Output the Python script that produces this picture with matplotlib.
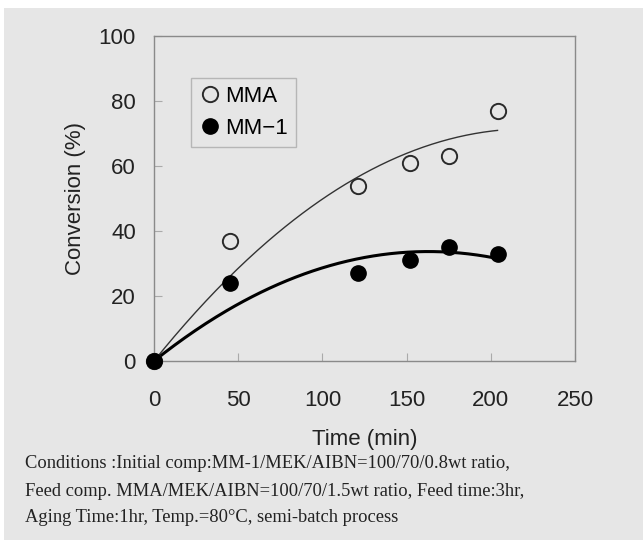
import numpy as np
import matplotlib
matplotlib.use('Agg')
import matplotlib.pyplot as plt
from matplotlib.patches import Rectangle
from matplotlib.lines import Line2D

# data
time_mma = [0, 45, 121, 152, 175, 204]
conv_mma = [0, 37, 54, 61, 63, 77]
time_mm1 = [0, 45, 121, 152, 175, 204]
conv_mm1 = [0, 24, 27, 31, 35, 33]

xticks = [0, 50, 100, 150, 200, 250]
yticks = [0, 20, 40, 60, 80, 100]

caption = ["Conditions :Initial comp:MM-1/MEK/AIBN=100/70/0.8wt ratio,",
           "Feed comp. MMA/MEK/AIBN=100/70/1.5wt ratio, Feed time:3hr,",
           "Aging Time:1hr, Temp.=80\u00b0C, semi-batch process"]

bg = '#e6e6e6'
plt.rcParams['font.family'] = 'Liberation Sans'

fig = plt.figure(figsize=(6.43, 5.40), dpi=100, facecolor=bg)
# white margins of the scan
fig.patches.append(Rectangle((0, 1 - 8/540), 1, 8/540, transform=fig.transFigure,
                             facecolor='white', edgecolor='none', zorder=0))
fig.patches.append(Rectangle((0, 0), 4/643, 1, transform=fig.transFigure,
                             facecolor='white', edgecolor='none', zorder=0))

ax = fig.add_axes([154/643, 1 - 361/540, (575 - 154)/643, (361 - 36)/540])
ax.set_facecolor(bg)
for s in ax.spines.values():
    s.set_color('#8a8a8a')
    s.set_linewidth(1.0)

# second order trend lines through origin (like the spreadsheet trendline)
def trend(t, c):
    t = np.asarray(t, float)
    c = np.asarray(c, float)
    A = np.vstack([t, t**2]).T
    coef = np.linalg.lstsq(A, c, rcond=None)[0]
    tt = np.linspace(0, t.max(), 200)
    return tt, coef[0]*tt + coef[1]*tt**2

tt, yy = trend(time_mma, conv_mma)
ax.plot(tt, yy, color='#333333', lw=1.0, zorder=2)
tt, yy = trend(time_mm1, conv_mm1)
ax.plot(tt, yy, color='black', lw=2.2, zorder=2)

ax.plot(time_mma, conv_mma, 'o', ms=11, mfc=bg, mec='#2a2a2a', mew=1.4,
        ls='none', zorder=3, clip_on=False)
ax.plot(time_mm1, conv_mm1, 'o', ms=11, mfc='black', mec='black', mew=1,
        ls='none', zorder=4, clip_on=False)

ax.set_xlim(0, 250)
ax.set_ylim(0, 100)
ax.set_xticks(xticks)
ax.set_yticks(yticks)
ax.tick_params(direction='in', length=6, width=0.8, color='#aaaaaa',
               labelsize=16, labelcolor='#222222')
ax.tick_params(axis='x', pad=21)
ax.tick_params(axis='y', pad=13)
ax.set_xlabel('Time (min)', fontsize=16, color='#222222', labelpad=13)
ax.set_ylabel('Conversion (%)', fontsize=16, color='#222222', labelpad=9)

handles = [Line2D([], [], marker='o', ls='none', ms=11, mfc=bg, mec='#2a2a2a', mew=1.4),
           Line2D([], [], marker='o', ls='none', ms=11, mfc='black', mec='black')]
leg = ax.legend(handles, ['MMA', 'MM\u22121'], loc='upper left',
                bbox_to_anchor=(37/421, 1 - 42/325), fontsize=16,
                frameon=True, fancybox=False, handletextpad=0.2,
                borderpad=0.35, labelspacing=0.5, handlelength=1.0,
                borderaxespad=0)
leg.get_frame().set_facecolor(bg)
leg.get_frame().set_edgecolor('#aaaaaa')
leg.get_frame().set_linewidth(1.0)

for i, line in enumerate(caption):
    fig.text(25/643, 1 - (464 + 27*i)/540, line, family='Liberation Serif',
             fontsize=13.3, color='#222222', va='center', ha='left')

fig.savefig('out.png', dpi=100, facecolor=bg)
